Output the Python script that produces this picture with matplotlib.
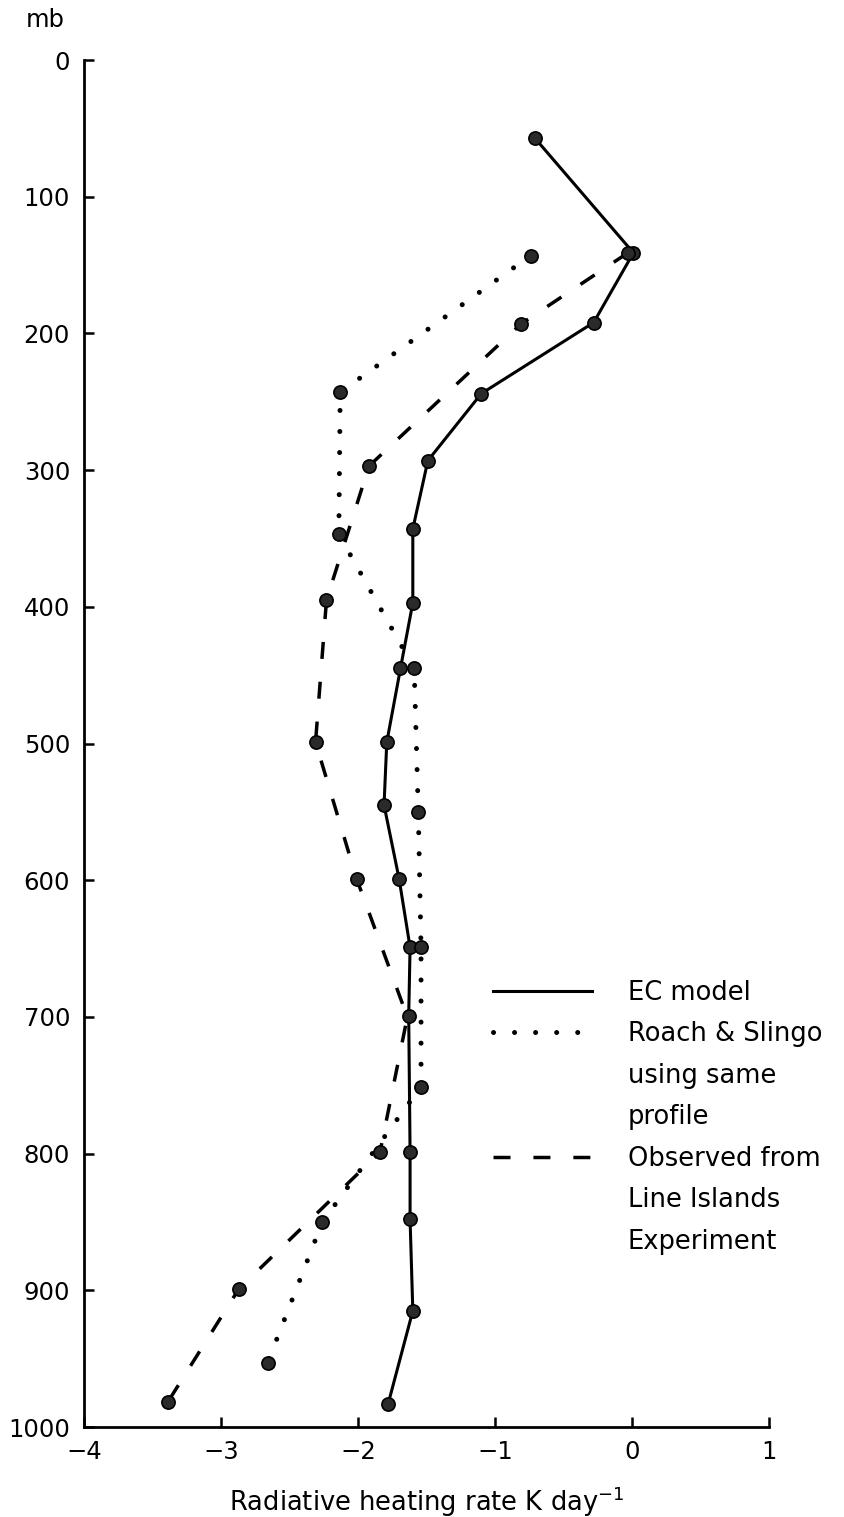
import matplotlib.pyplot as plt
from matplotlib.lines import Line2D

# Давление (мб) и скорость радиационного нагрева (K/сутки)
ec_p = [57, 141, 192, 244, 293, 343, 397, 445, 499, 545, 599, 649, 699, 799, 848, 915, 983]
ec_rate = [-0.71, 0.01, -0.28, -1.10, -1.49, -1.60, -1.60, -1.69, -1.79, -1.81,
           -1.70, -1.62, -1.63, -1.62, -1.62, -1.60, -1.78]

rs_p = [143, 243, 347, 445, 550, 649, 751, 850, 953]
rs_rate = [-0.74, -2.13, -2.14, -1.59, -1.56, -1.54, -1.54, -2.26, -2.66]

obs_p = [141, 193, 297, 395, 499, 599, 700, 799, 899, 982]
obs_rate = [-0.03, -0.81, -1.92, -2.23, -2.31, -2.01, -1.64, -1.84, -2.87, -3.39]
obs_dots = [0, 1, 2, 3, 4, 5, 7, 8, 9]  # на 700 мб своей точки нет

x_ticks = [-4, -3, -2, -1, 0, 1]
y_ticks = list(range(0, 1001, 100))

legend_rows = ["EC model", "Roach & Slingo", "using same", "profile",
               "Observed from", "Line Islands", "Experiment"]

FS = 17.5
FS_TEXT = 18.5
DOT = dict(ls=(0, (0.01, 4.2)), lw=3.6, dash_capstyle='round', color='black')
DASH = dict(ls=(0, (4.9, 6.6)), lw=2.5, color='black')
SOLID = dict(ls='-', lw=2.2, color='black')
MARK = dict(ls='none', marker='o', ms=9.5, mfc='#2a2a2a', mec='black', mew=1.2, clip_on=False)


def create_chart():
    fig = plt.figure(figsize=(8.45, 15.17), dpi=100)
    ax = fig.add_axes([0.0994, 0.0593, 0.8107, 0.9011])

    ec_line, = ax.plot(ec_rate, ec_p, **SOLID)
    rs_line, = ax.plot(rs_rate, rs_p, **DOT)
    obs_line, = ax.plot(obs_rate, obs_p, **DASH)

    ax.plot(ec_rate, ec_p, **MARK)
    ax.plot(rs_rate, rs_p, **MARK)
    ax.plot([obs_rate[i] for i in obs_dots], [obs_p[i] for i in obs_dots], **MARK)

    ax.set_xlim(-4, 1)
    ax.set_ylim(1000, 0)
    ax.set_xticks(x_ticks)
    ax.set_yticks(y_ticks)

    for s in ['top', 'right']:
        ax.spines[s].set_visible(False)
    for s in ['left', 'bottom']:
        ax.spines[s].set_linewidth(2.0)

    ax.tick_params(direction='in', length=7, width=1.8, labelsize=FS)
    ax.tick_params(axis='x', pad=9)
    ax.tick_params(axis='y', pad=10)

    ax.set_xlabel('Radiative heating rate K day$^{-1}$', fontsize=FS_TEXT)
    ax.xaxis.set_label_coords(0.5, -0.042)
    ax.text(-0.028, 1.024, 'mb', transform=ax.transAxes, ha='right',
            va='baseline', fontsize=FS)

    # легенда: подписи в несколько строк, ключ только у первой строки
    blank = Line2D([], [], color='none')
    handles = [ec_line, rs_line, blank, blank, obs_line, blank, blank]
    ax.legend(handles, legend_rows, loc='upper left', bbox_to_anchor=(0.597, 0.327),
              frameon=False, fontsize=FS_TEXT, borderpad=0, borderaxespad=0,
              handlelength=3.85, handletextpad=1.4, labelspacing=0.6)

    fig.savefig('out.png', dpi=100)


if __name__ == "__main__":
    create_chart()
